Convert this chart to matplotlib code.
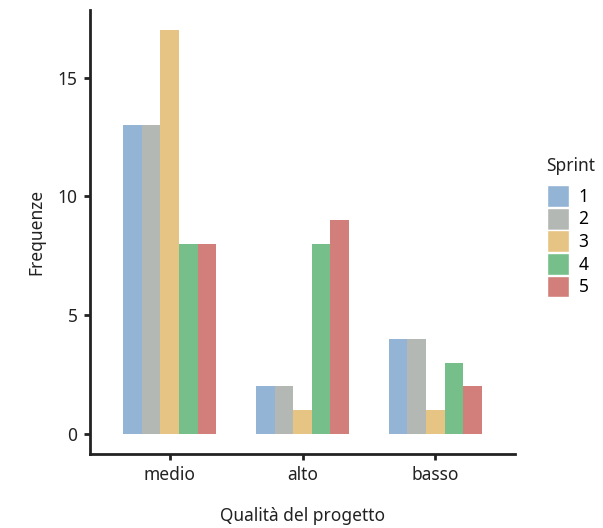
import numpy as np
import matplotlib.pyplot as plt
from matplotlib.patches import Patch

plt.rcParams['font.family'] = ['Noto Sans', 'DejaVu Sans']

categories = ['medio', 'alto', 'basso']
sprints = ['1', '2', '3', '4', '5']
counts = {
    '1': [13, 2, 4],
    '2': [13, 2, 4],
    '3': [17, 1, 1],
    '4': [8, 8, 3],
    '5': [8, 9, 2],
}
colors = ['#94B4D6', '#B3B8B4', '#E6C483', '#77BF8A', '#D27F7C']

fig = plt.figure(figsize=(6.03, 5.28), dpi=100)
ax = fig.add_axes([90 / 603, 74 / 528, 425 / 603, 444 / 528])

x = np.arange(1, len(categories) + 1)
groupWidth = 0.7
barWidth = groupWidth / len(sprints)
for i, s in enumerate(sprints):
    offset = -groupWidth / 2 + barWidth * (i + 0.5)
    ax.bar(x + offset, counts[s], width=barWidth, color=colors[i], linewidth=0)

ax.set_xlim(0.4, 3.6)
ax.set_ylim(-0.85, 17.85)
ax.set_xticks(x)
ax.set_xticklabels(categories)
ax.set_yticks([0, 5, 10, 15])

fs = 12.5
for side in ['top', 'right']:
    ax.spines[side].set_visible(False)
for side in ['left', 'bottom']:
    ax.spines[side].set_linewidth(2)
    ax.spines[side].set_color('#222222')
ax.tick_params(axis='both', length=4, width=2, color='#222222',
               labelsize=fs, labelcolor='#222222', pad=5)

ax.set_xlabel('Qualità del progetto', fontsize=fs, color='#222222', labelpad=16)
ax.set_ylabel('Frequenze', fontsize=fs, color='#222222', labelpad=9)

# legend title placed separately to get the wider gap above the keys
fig.text(546 / 603, 1 - 166 / 528, 'Sprint', fontsize=fs, color='#222222',
         ha='left', va='center')
handles = [Patch(facecolor=c, edgecolor='white', linewidth=1) for c in colors]
leg = fig.legend(handles, sprints, loc='upper left',
                 bbox_to_anchor=(542 / 603, 1 - 180 / 528), frameon=False,
                 fontsize=fs, handlelength=1.25,
                 handleheight=1.55, labelspacing=0.05, handletextpad=0.55,
                 borderaxespad=0, borderpad=0.3)

plt.savefig('out.png', dpi=100)
